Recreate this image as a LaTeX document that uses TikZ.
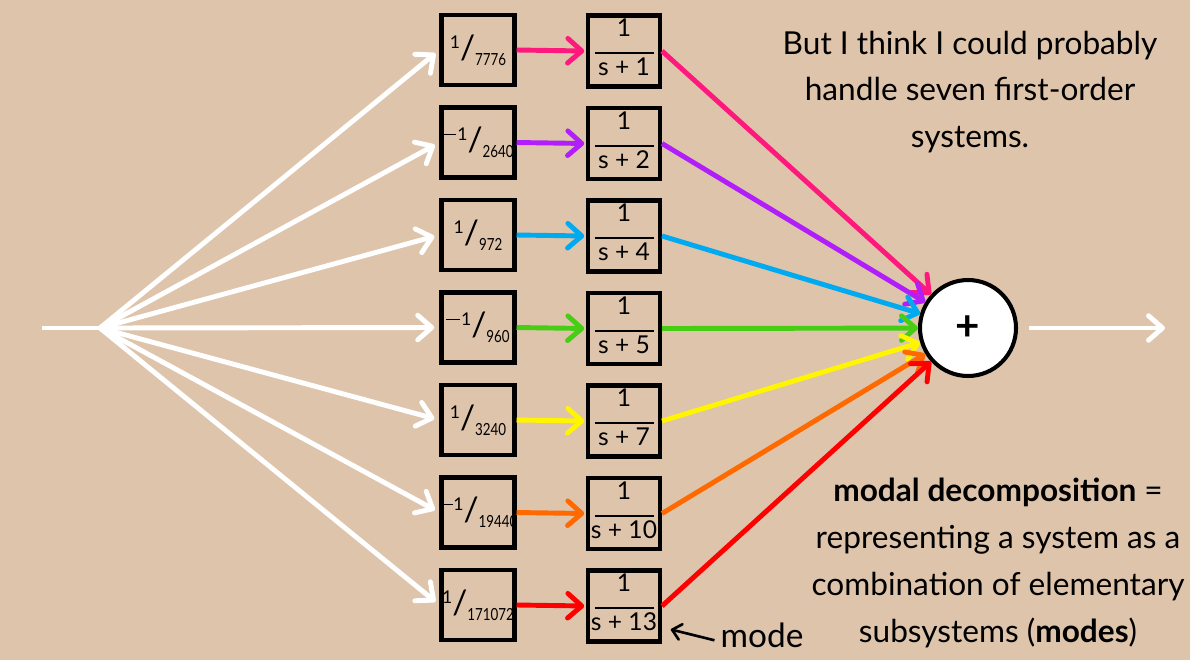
\documentclass[tikz,border=0pt]{standalone}
\usepackage{fontspec}
\usepackage{graphicx}
\setmainfont{Lato}
\usetikzlibrary{arrows.meta, positioning}
\definecolor{paper}{RGB}{222,196,170}
\definecolor{modepink}{RGB}{255,25,125}
\definecolor{modepurple}{RGB}{176,30,250}
\definecolor{modeblue}{RGB}{0,170,240}
\definecolor{modegreen}{RGB}{70,205,20}
\definecolor{modeyellow}{RGB}{255,245,0}
\definecolor{modeorange}{RGB}{255,105,0}
\definecolor{modered}{RGB}{255,0,0}
\newcommand{\gminus}{\rule[0.32em]{8pt}{0.9pt}\kern0.5pt}
\newcommand{\gainfrac}[2]{\makebox[0pt]{\raisebox{0.42em}{\fontsize{10}{10}\selectfont #11}{\fontsize{19}{19}\selectfont /}\raisebox{-0.22em}{\scalebox{0.8}[1]{\fontsize{9.5}{9.5}\selectfont #2}}}}
\newcommand{\polefrac}[1]{\makebox[0pt]{\begin{tabular}{@{}c@{}}1\\[-4pt]\rule{1.18cm}{1pt}\\[-2pt]s + #1\end{tabular}}}

\begin{document}
\begin{tikzpicture}[x=0.02cm, y=-0.02cm,
    gainbox/.style={rectangle, draw, line width=2.3pt, minimum width=1.46cm, minimum height=1.4cm, inner sep=0pt, font=\fontsize{15}{15}\selectfont},
    polebox/.style={rectangle, draw, line width=2.3pt, minimum width=1.44cm, minimum height=1.42cm, inner sep=0pt, font=\fontsize{14}{14}\selectfont},
    feed/.style={white, line width=2.8pt, -{Straight Barb[length=8pt, width=14pt, round]}},
    link/.style={line width=2.8pt, -{Straight Barb[length=8pt, width=14pt, round]}},
    talk/.style={align=center, font=\fontsize{18}{26.6}\selectfont}
]
\fill[paper] (0,0) rectangle (1190,660);
\useasboundingbox (0,0) rectangle (1190,660);

\coordinate (input) at (42,328);
\coordinate (branch) at (100,328);
\coordinate (output) at (1165,328);
\draw[white, line width=2.8pt] (input) -- (branch);

\node[circle, draw, fill=white, line width=2.3pt, minimum size=1.92cm, font=\fontsize{24}{24}\selectfont\bfseries] (sum) at (968,328) {+};

\foreach \i/\sg/\den/\pole/\col in {1//7776/1/modepink, 2/\gminus/2640/2/modepurple, 3//972/4/modeblue,
    4/\gminus/960/5/modegreen, 5//3240/7/modeyellow, 6/\gminus/19440/10/modeorange, 7//171072/13/modered} {
  \pgfmathsetmacro\yy{50+92.5*(\i-1)}
  \node[gainbox] (gain\i) at (478,\yy) {\gainfrac{\sg}{\den}};
  \node[polebox] (mode\i) at (624,\yy+1) {\polefrac{\pole}};
  \draw[feed, shorten >=3pt] (branch) -- (gain\i.west);
  \draw[link, \col, shorten >=1pt] (gain\i.east) -- (mode\i.west);
  \draw[link, \col] (mode\i.east) -- (sum);
}

\draw[feed, shorten <=6.5pt] (sum.east) -- (output);

\node[font=\fontsize{19}{19}\selectfont] (modelbl) at (762,635) {mode};
\draw[line width=1.5pt, -{Straight Barb[length=5pt, width=9pt, round]}] ([yshift=-3pt]modelbl.west) -- ([xshift=5pt, yshift=8pt]mode7.south east);

\node[talk] (remark) at (970,92) {But I think I could probably\\handle seven first-order\\systems.};
\node[talk] (define) at (998,563) {\textbf{modal decomposition} =\\representing a system as a\\combination of elementary\\subsystems (\textbf{modes})};

\end{tikzpicture}
\end{document}
